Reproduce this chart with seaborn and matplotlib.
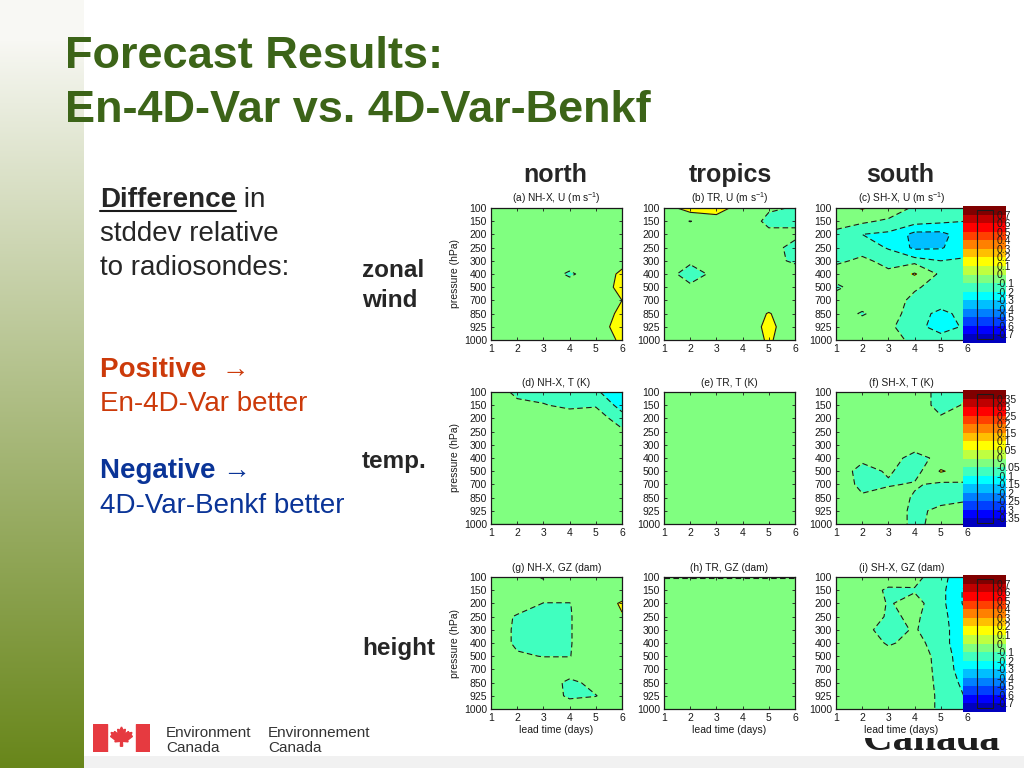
import warnings
warnings.filterwarnings("ignore")
import numpy as np
import matplotlib
matplotlib.use("Agg")
import matplotlib.pyplot as plt
import seaborn as sns
from matplotlib.colors import ListedColormap, BoundaryNorm
from matplotlib.cm import ScalarMappable
from matplotlib.patches import Rectangle, Polygon
from matplotlib.lines import Line2D
from matplotlib.transforms import IdentityTransform

# ---------------- data ----------------
pressure = [100, 150, 200, 250, 300, 400, 500, 700, 850, 925, 1000]
lead_days = [1, 2, 3, 4, 5, 6]

u_nh = [[0.102, 0.102, 0.102, 0.102, 0.102, 0.102],
        [0, 0, 0, 0, 0, 0],
        [0, 0, 0, 0, 0, 0],
        [0, 0, 0, 0, 0, 0],
        [0, 0, 0, 0, 0, 0.05],
        [0, 0, 0, -0.13, 0, 0.13],
        [0, 0, 0, 0, 0, 0.15],
        [0, 0, 0, 0, 0, 0.1],
        [0, 0, 0, 0, 0, 0.14],
        [0, 0, 0, 0, 0, 0.19],
        [0, 0, 0, 0, 0, 0.13]]
u_tr = [[0, 0.2, 0.2, 0, -0.08, -0.11],
        [0, -0.105, 0, 0, -0.14, -0.13],
        [0, 0, 0, 0, -0.06, -0.07],
        [0, 0, 0, 0, -0.05, -0.14],
        [0, -0.08, 0, 0, -0.04, -0.13],
        [-0.05, -0.15, -0.07, 0, 0, 0],
        [0, -0.08, 0, 0, 0, 0],
        [0, 0, 0, 0, 0, 0],
        [0, 0, 0, 0, 0.11, 0],
        [0, 0, 0, 0, 0.14, 0],
        [0, 0, 0, 0, 0.12, 0]]
u_sh = [[0, 0.12, -0.02, -0.12, -0.12, -0.12],
        [-0.05, -0.08, -0.12, -0.16, -0.18, -0.2],
        [-0.13, -0.2, -0.22, -0.33, -0.33, -0.24],
        [-0.13, -0.14, -0.21, -0.32, -0.31, -0.23],
        [-0.12, -0.08, -0.13, -0.16, -0.2, -0.19],
        [-0.05, -0.05, -0.08, 0.12, -0.14, -0.16],
        [-0.12, -0.05, -0.05, -0.09, -0.13, -0.14],
        [-0.05, -0.05, -0.06, -0.12, -0.14, -0.13],
        [-0.05, -0.11, -0.05, -0.15, -0.23, -0.16],
        [-0.05, -0.05, -0.08, -0.16, -0.25, -0.18],
        [-0.05, -0.05, -0.05, -0.13, -0.15, -0.12]]
t_nh = [[0, -0.07, -0.08, -0.09, -0.09, -0.15],
        [0, -0.03, -0.045, -0.07, -0.055, -0.12],
        [0, 0, 0, 0, -0.02, -0.08],
        [0, 0, 0, 0, 0, -0.04],
        [0, 0, 0, 0, 0, 0],
        [0, 0, 0, 0, 0, 0],
        [0, 0, 0, 0, 0, 0],
        [0, 0, 0, 0, 0, 0],
        [0, 0, 0, 0, 0, 0],
        [0, 0, 0, 0, 0, 0],
        [0.051, 0.051, 0.051, 0.051, 0.051, 0.051]]
t_tr = [[0, 0, 0, 0, 0, 0] for _ in range(11)]
t_sh = [[0, 0, 0, 0, -0.08, -0.06],
        [0, 0, 0, 0, -0.08, -0.04],
        [0, 0, 0, 0, -0.04, 0],
        [0, 0, 0, 0, 0, 0],
        [0, 0, 0, 0, 0, 0],
        [0, -0.03, 0, -0.09, -0.02, 0],
        [0, -0.08, -0.04, -0.09, 0.06, 0],
        [0, -0.07, -0.06, -0.04, -0.07, -0.06],
        [0, -0.04, 0, -0.06, -0.08, -0.07],
        [0, 0, 0, -0.07, -0.03, 0],
        [0, 0, 0, -0.07, -0.02, 0]]
gz_nh = [[0, 0, -0.12, 0, 0, 0],
         [0, 0, 0, 0, 0, 0],
         [0, 0, -0.105, -0.105, 0, 0.12],
         [0, -0.12, -0.15, -0.11, 0, 0.09],
         [0, -0.13, -0.16, -0.11, 0, 0],
         [0, -0.13, -0.15, -0.11, 0, 0],
         [0, -0.08, -0.105, -0.105, 0, 0],
         [0, 0, 0, 0, 0, 0],
         [0, 0, 0, -0.14, -0.05, 0],
         [0, 0, 0, -0.13, -0.105, 0],
         [0, 0, 0, 0, 0, 0]]
gz_tr = [[-0.105, -0.105, -0.105, -0.105, -0.105, -0.105]] + [[0, 0, 0, 0, 0, 0] for _ in range(10)]
gz_sh = [[0, 0, 0, -0.06, -0.18, -0.25],
         [0, 0, -0.13, -0.11, -0.17, -0.33],
         [0, 0, -0.11, -0.06, -0.17, -0.33],
         [0, 0, -0.12, -0.08, -0.17, -0.28],
         [0, -0.07, -0.14, -0.09, -0.17, -0.26],
         [0, 0, -0.12, -0.05, -0.17, -0.26],
         [0, 0, -0.03, 0, -0.16, -0.25],
         [0, 0, 0, 0, -0.15, -0.25],
         [0, 0, 0, 0, -0.14, -0.23],
         [0, 0, 0, 0, -0.13, -0.21],
         [0, 0, 0, 0, -0.13, -0.17]]

panel_titles = ["(a) NH-X, U (m s$^{-1}$)", "(b) TR, U (m s$^{-1}$)", "(c) SH-X, U (m s$^{-1}$)",
                "(d) NH-X, T (K)", "(e) TR, T (K)", "(f) SH-X, T (K)",
                "(g) NH-X, GZ (dam)", "(h) TR, GZ (dam)", "(i) SH-X, GZ (dam)"]
region_names = ["north", "tropics", "south"]
var_names = ["zonal\nwind", "temp.", "height"]
u_ticks = [0.7, 0.6, 0.5, 0.4, 0.3, 0.2, 0.1, 0, -0.1, -0.2, -0.3, -0.4, -0.5, -0.6, -0.7]
t_ticks = [0.35, 0.3, 0.25, 0.2, 0.15, 0.1, 0.05, 0, -0.05, -0.1, -0.15, -0.2, -0.25, -0.3, -0.35]

# ---------------- style ----------------
sns.set_theme(style="white")
plt.rcParams["font.family"] = ["Liberation Sans", "DejaVu Sans"]
plt.rcParams["mathtext.fontset"] = "custom"
plt.rcParams["mathtext.rm"] = "Liberation Sans"
plt.rcParams["mathtext.default"] = "rm"
plt.rcParams["axes.axisbelow"] = False

jet16 = ['#0000bf', '#0000ff', '#0040ff', '#0080ff', '#00bfff', '#00ffff', '#40ffbf', '#80ff80',
         '#bfff40', '#ffff00', '#ffbf00', '#ff8000', '#ff4000', '#ff0000', '#bf0000', '#800000']
fill_colors = jet16[:8] + jet16[9:]

W, H = 1024, 768
fig = plt.figure(figsize=(W / 100, H / 100), dpi=100)
fig.patch.set_facecolor("white")


def rect(l, t, r, b):
    return [l / W, 1 - b / H, (r - l) / W, (b - t) / H]


def fy(py):
    return 1 - py / H


# left gradient bar
bg = fig.add_axes(rect(0, 0, 84, 768))
yy = np.arange(H)
tt = np.clip((yy - 40) / (H - 40), 0, 1) ** 0.95
top_c = np.array([248, 248, 244]) / 255
bot_c = np.array([104, 134, 26]) / 255
grad = top_c[None, :] * (1 - tt[:, None]) + bot_c[None, :] * tt[:, None]
bg.imshow(grad[:, None, :], aspect="auto", extent=[0, 1, 1, 0])
bg.axis("off")

# bottom light band
fig.add_artist(Rectangle((84 / W, 0), 1, 12 / H, transform=fig.transFigure,
                         facecolor="#f1f1f1", edgecolor="none", zorder=0))

# titles
title_color = "#3c6418"
fig.text(65 / W, fy(68), "Forecast Results:", fontsize=32.5, weight="bold",
         color=title_color, va="baseline")
fig.text(65 / W, fy(122), "En-4D-Var vs. 4D-Var-Benkf", fontsize=32.5, weight="bold",
         color=title_color, va="baseline")

# panels
fields = [[u_nh, u_tr, u_sh], [t_nh, t_tr, t_sh], [gz_nh, gz_tr, gz_sh]]
col_left = [491, 664, 836]
row_top = [208, 392, 577]
pw, ph = 131, 132
yidx = np.arange(len(pressure))
X = np.array(lead_days)

for r in range(3):
    step = 0.05 if r == 1 else 0.1
    bounds = np.round(np.arange(-8, 9) * step, 3)
    lv = np.concatenate([bounds[:8], bounds[9:]])
    line_lv = np.concatenate([bounds[1:8], bounds[9:16]])
    for c in range(3):
        ax = fig.add_axes(rect(col_left[c], row_top[r], col_left[c] + pw, row_top[r] + ph))
        Z = np.array(fields[r][c], dtype=float)
        ax.contourf(X, yidx, Z, levels=lv, colors=fill_colors)
        ax.contour(X, yidx, Z, levels=line_lv, colors="k", linewidths=0.8,
                   negative_linestyles=(0, (5, 3)))
        ax.set_xlim(1, 6)
        ax.set_ylim(len(pressure) - 1, 0)
        ax.set_xticks(lead_days)
        ax.set_yticks(yidx)
        ax.set_yticklabels([str(p) for p in pressure])
        ax.tick_params(direction="in", length=2.5, width=0.6, labelsize=7.5, pad=3,
                       bottom=True, left=True, top=True, right=True, colors="k")
        for s in ax.spines.values():
            s.set_color("k")
            s.set_linewidth(0.9)
        ax.set_title(panel_titles[r * 3 + c], fontsize=7.3, pad=4, color="k")
        if c == 0:
            ax.set_ylabel("pressure (hPa)", fontsize=7.5, labelpad=3, color="k")
        if r == 2:
            ax.set_xlabel("lead time (days)", fontsize=7.5, labelpad=1, color="k")

    # colorbar
    cax = fig.add_axes(rect(963, row_top[r] - 2, 1006, row_top[r] + ph + 3))
    sm = ScalarMappable(norm=BoundaryNorm(bounds, 16), cmap=ListedColormap(jet16))
    ticks = u_ticks if r != 1 else t_ticks
    cb = fig.colorbar(sm, cax=cax, ticks=ticks)
    cb.set_ticklabels(["%g" % v for v in ticks])
    cb.outline.set_visible(False)
    cax.minorticks_off()
    cax.set_axisbelow(False)
    cax.yaxis.set_zorder(5)
    cax.tick_params(which="both", length=0, pad=-7, labelsize=7.5, colors="k")
    cax.add_patch(Rectangle((0.33, 0.03), 0.37, 0.94, transform=cax.transAxes,
                            fill=False, edgecolor="k", linewidth=0.8, zorder=3))

# column headers
for name, cx in zip(region_names, [555, 730, 900]):
    fig.text(cx / W, fy(182), name, fontsize=18, weight="bold", ha="center", va="baseline")

# row labels
fig.text(362 / W, fy(277), "zonal", fontsize=17.5, weight="bold", va="baseline")
fig.text(362 / W, fy(307), "wind", fontsize=17.5, weight="bold", va="baseline")
fig.text(362 / W, fy(468), var_names[1], fontsize=17.5, weight="bold", va="baseline")
fig.text(362 / W, fy(655), var_names[2], fontsize=17.5, weight="bold", va="baseline")

# left explanatory text
t_diff = fig.text(100 / W, fy(207), "Difference", fontsize=20, weight="bold", va="baseline")
fig.canvas.draw()
bb = t_diff.get_window_extent()
fig.text(bb.x1 / W, fy(207), " in", fontsize=20, va="baseline")
fig.add_artist(Line2D([bb.x0, bb.x1], [H - 211, H - 211], transform=IdentityTransform(),
                      color="k", linewidth=1.5))
fig.text(100 / W, fy(241), "stddev relative", fontsize=20, va="baseline")
fig.text(100 / W, fy(275), "to radiosondes:", fontsize=20, va="baseline")
pos_c = "#cc3a0a"
neg_c = "#0a3497"
fig.text(100 / W, fy(377), "Positive  \u2192", fontsize=20, weight="bold", color=pos_c, va="baseline")
fig.text(100 / W, fy(411), "En-4D-Var better", fontsize=20, color=pos_c, va="baseline")
fig.text(100 / W, fy(478), "Negative \u2192", fontsize=20, weight="bold", color=neg_c, va="baseline")
fig.text(100 / W, fy(513), "4D-Var-Benkf better", fontsize=20, color=neg_c, va="baseline")

# logo
flag = fig.add_axes(rect(93, 724, 150, 752))
flag.set_xlim(0, 57)
flag.set_ylim(0, 28)
flag.axis("off")
red = "#e63a40"
flag.add_patch(Rectangle((0, 0), 14, 28, color=red))
flag.add_patch(Rectangle((43, 0), 14, 28, color=red))
leaf = np.array([(0, 1), (0.15, 0.7), (0.35, 0.8), (0.3, 0.35), (0.65, 0.6), (0.6, 0.45),
                 (0.95, 0.5), (0.85, 0.25), (1.0, 0.15), (0.55, -0.2), (0.6, -0.35),
                 (0.08, -0.3), (0.1, -0.75), (-0.1, -0.75), (-0.08, -0.3), (-0.6, -0.35),
                 (-0.55, -0.2), (-1.0, 0.15), (-0.85, 0.25), (-0.95, 0.5), (-0.6, 0.45),
                 (-0.65, 0.6), (-0.3, 0.35), (-0.35, 0.8), (-0.15, 0.7)])
flag.add_patch(Polygon(np.column_stack([28.5 + leaf[:, 0] * 11, 14 + leaf[:, 1] * 11]),
                       closed=True, color=red))
logo_c = "#333333"
fig.text(166 / W, fy(737), "Environment", fontsize=11, color=logo_c, va="baseline")
fig.text(166 / W, fy(752), "Canada", fontsize=11, color=logo_c, va="baseline")
fig.text(268 / W, fy(737), "Environnement", fontsize=11, color=logo_c, va="baseline")
fig.text(268 / W, fy(752), "Canada", fontsize=11, color=logo_c, va="baseline")

cw = fig.add_axes(rect(850, 738, 1024, 768))
cw.set_xlim(0, 1)
cw.set_ylim(0, 1)
cw.axis("off")
wm = cw.text(0.075, 0.6, "Canada", fontsize=29.5, weight="bold",
             family=["Liberation Serif", "DejaVu Serif"], color="#1e1e1e", va="baseline")
wm.set_clip_path(None)
wm.set_clip_box(cw.bbox)
wm.set_clip_on(True)

fig.savefig("out.png", dpi=100)
